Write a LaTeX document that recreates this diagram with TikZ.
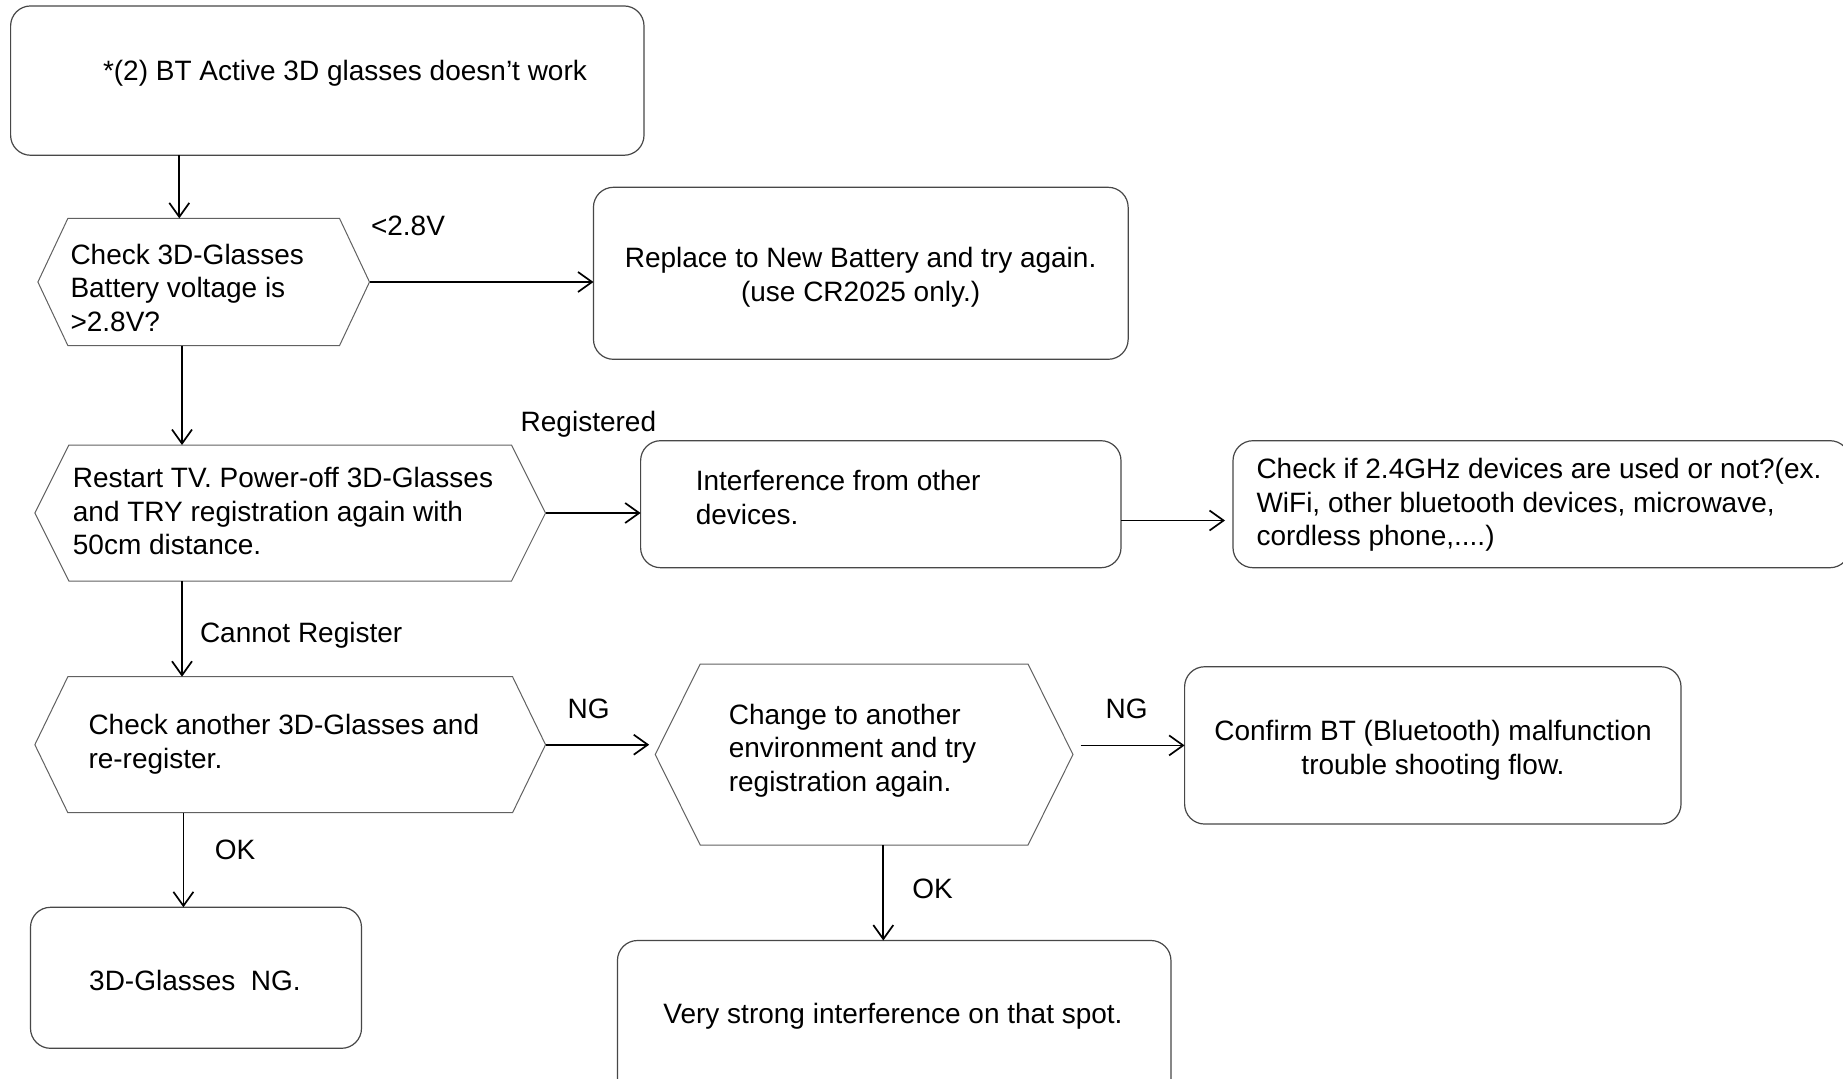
\documentclass[tikz,border=0pt]{standalone}
\usepackage{fontspec}
\setmainfont{Liberation Sans}
\usetikzlibrary{arrows.meta}

\tikzset{
  x=1pt, y=-1pt,
  shapebox/.style={rectangle, inner sep=0pt, outer sep=0pt},
  roundbox/.style={shapebox, draw=black!72, line width=1.2pt, rounded corners=20pt},
  hexframe/.style={draw=black!62, line width=1pt, line join=miter},
  txt/.style={inner sep=0pt, outer sep=0pt, align=left, font=\fontsize{28}{33.5}\selectfont},
  ctxt/.style={txt, align=center},
  lbl/.style={inner sep=0pt, outer sep=0pt, font=\fontsize{28}{33.5}\selectfont},
  arr/.style={draw=black, line width=1.7pt,
    -{Straight Barb[length=14pt,width=20pt,line width=1.7pt]}},
}
% outline of a decision hexagon drawn over a plain rectangular node
\newcommand\hexagonframe[2]{%
  \draw[hexframe] (#1.west) -- ([xshift=#2]#1.north west) -- ([xshift=-#2]#1.north east)
    -- (#1.east) -- ([xshift=-#2]#1.south east) -- ([xshift=#2]#1.south west) -- cycle;}

\begin{document}
\begin{tikzpicture}
\useasboundingbox (0,0) rectangle (1843,1078);
\clip (0,0) rectangle (1843,1078);
\fill[white] (0,0) rectangle (1843,1078);

% rounded boxes
\node[roundbox, minimum width=633.4pt, minimum height=149.3pt] (b1) at (327.3,80.6) {};
\node[roundbox, minimum width=534.7pt, minimum height=172pt]   (b2) at (860.8,273.3) {};
\node[roundbox, minimum width=480.4pt, minimum height=127pt]   (b3) at (880.8,504.2) {};
\node[roundbox, minimum width=617pt,   minimum height=127pt]   (b4) at (1541.5,504.2) {};
\node[roundbox, minimum width=496.4pt, minimum height=157.3pt] (b5) at (1432.8,745.4) {};
\node[roundbox, minimum width=331pt,   minimum height=141pt]   (b6) at (196,977.8) {};
\node[roundbox, minimum width=553.5pt, minimum height=160pt]   (b7) at (894.2,1020.5) {};

% decision hexagons
\node[shapebox, minimum width=331.6pt, minimum height=127.3pt] (h1) at (203.7,282) {};
\node[shapebox, minimum width=510.7pt, minimum height=136pt]   (h2) at (290.2,513) {};
\node[shapebox, minimum width=510.7pt, minimum height=136pt]   (h3) at (290.2,744.7) {};
\node[shapebox, minimum width=417.8pt, minimum height=181pt]   (h4) at (864.1,754.5) {};
\hexagonframe{h1}{30pt}
\hexagonframe{h2}{34pt}
\hexagonframe{h3}{33pt}
\hexagonframe{h4}{45pt}

% texts
\node[txt, anchor=west] (t1) at (103,73.5) {\strut*(2) BT Active 3D glasses doesn’t work\strut};
\node[txt, anchor=west] (th1) at (70.5,291) {\strut Check 3D-Glasses\\Battery voltage is\\>2.8V?\strut};
\node[ctxt] (t2) at (860.6,278) {\strut Replace to New Battery and try again.\\(use CR2025 only.)\strut};
\node[txt, anchor=west] (th2) at (72.9,514.3) {\strut Restart TV. Power-off 3D-Glasses\\and TRY registration again with\\50cm distance.\strut};
\node[txt, anchor=west] (t3) at (695.8,501) {\strut Interference from other\\devices.\strut};
\node[txt, anchor=west] (t4) at (1256.5,505.6) {\strut Check if 2.4GHz devices are used or not?(ex.\\WiFi, other bluetooth devices, microwave,\\cordless phone,....)\strut};
\node[txt, anchor=west] (th3) at (88.5,744.8) {\strut Check another 3D-Glasses and\\re-register.\strut};
\node[txt, anchor=west] (th4) at (728.8,751.2) {\strut Change to another\\environment and try\\registration again.\strut};
\node[ctxt] (t5) at (1433,751) {\strut Confirm BT (Bluetooth) malfunction\\trouble shooting flow.\strut};
\node[ctxt] (t6) at (195,983.3) {\strut 3D-Glasses\ \ NG.\strut};
\node[ctxt] (t7) at (893,1016.3) {\strut Very strong interference on that spot.\strut};

% connector labels
\node[lbl, anchor=west] (l1) at (371,226) {<2.8V};
\node[lbl, anchor=west] (l2) at (520.7,424) {Registered};
\node[lbl, anchor=west] (l3) at (200,635.6) {Cannot Register};
\node[lbl] (l4) at (588.6,708.9) {NG};
\node[lbl] (l5) at (1126.7,708.9) {NG};
\node[lbl] (l6) at (235,849.5) {OK};
\node[lbl] (l7) at (932.5,889.3) {OK};

% connectors
\draw[arr] (b1.south -| 179.3,0) -- (h1.north -| 179.3,0);
\draw[arr] (h1.east) -- (h1.east -| b2.west);
\draw[arr] (h1.south -| 182,0) -- (h2.north -| 182,0);
\draw[arr] (h2.east) -- (h2.east -| b3.west);
\draw[arr, shorten >=8pt] (b3.east |- 0,520.5) -- (b4.west |- 0,520.5);
\draw[arr] (h2.south -| 182,0) -- (h3.north -| 182,0);
\draw[arr, shorten >=6pt] (h3.east) -- (h3.east -| h4.west);
\draw[arr, shorten <=7.5pt] (b5.west -| h4.east) -- (b5.west);
\draw[arr] (h3.south -| 183.4,0) -- (b6.north -| 183.4,0);
\draw[arr] (h4.south -| 883.3,0) -- (b7.north -| 883.3,0);
\end{tikzpicture}
\end{document}
